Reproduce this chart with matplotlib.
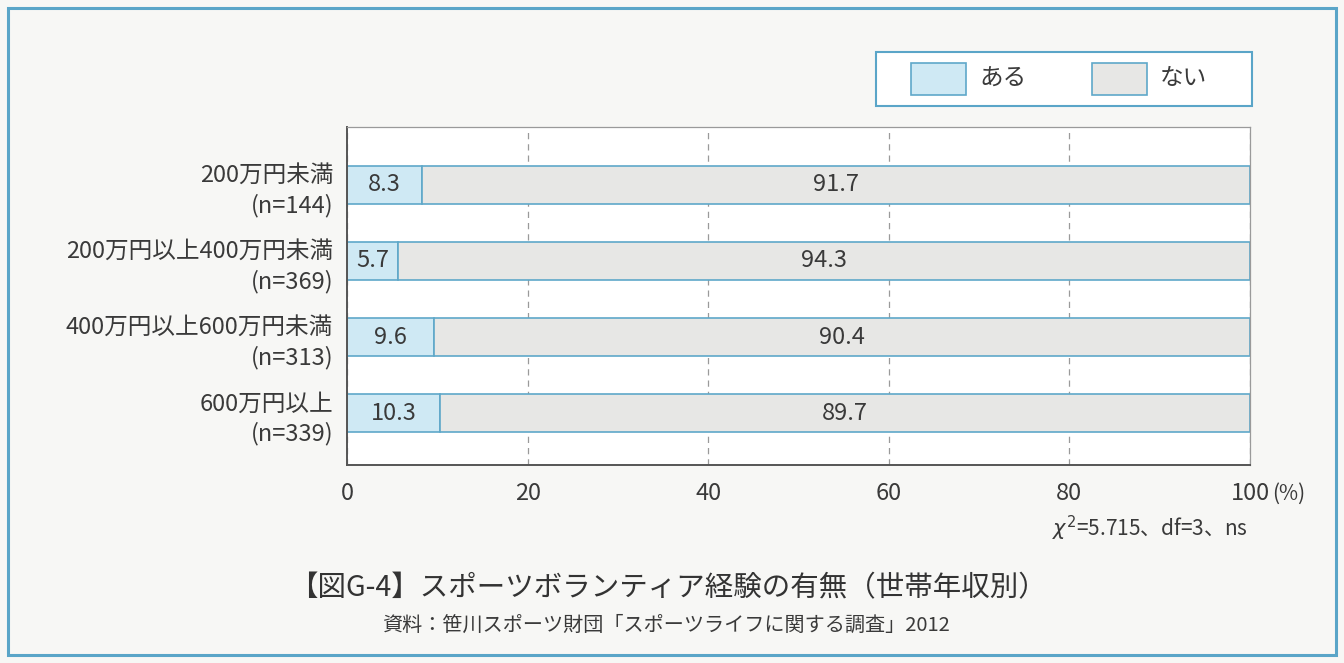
import numpy as np
import matplotlib.pyplot as plt
from matplotlib.patches import Rectangle

plt.rcParams['font.family'] = ['Noto Sans CJK JP', 'DejaVu Sans']

# data
categories = ['200万円未満\n(n=144)', '200万円以上400万円未満\n(n=369)',
              '400万円以上600万円未満\n(n=313)', '600万円以上\n(n=339)']
aru = [8.3, 5.7, 9.6, 10.3]
nai = [91.7, 94.3, 90.4, 89.7]
xticks = [0, 20, 40, 60, 80, 100]
xticklabels = ['0', '20', '40', '60', '80', '100']

blue_fill = '#cfe9f4'
gray_fill = '#e7e7e5'
edge = '#5fa8c9'
txt = '#3a3a3a'

fig = plt.figure(figsize=(13.44, 6.63), dpi=100)
fig.patch.set_facecolor('#f7f7f5')

# outer frame
fig.patches.append(Rectangle((8 / 1344, 8 / 663), 1328 / 1344, 647 / 663,
                             transform=fig.transFigure, fill=False,
                             edgecolor='#5aa5c8', linewidth=2.2))

ax = fig.add_axes([347 / 1344, 1 - 465 / 663, 903 / 1344, 338 / 663])
ax.set_facecolor('white')

y = np.arange(len(categories))[::-1]
ax.barh(y, aru, height=0.5, color=blue_fill, edgecolor=edge, linewidth=1.2)
ax.barh(y, nai, left=aru, height=0.5, color=gray_fill, edgecolor=edge, linewidth=1.2)

for yi, a, n in zip(y, aru, nai):
    ax.text(a / 2, yi, f'{a}', ha='center', va='center', fontsize=17, color=txt)
    ax.text(a + n / 2, yi, f'{n}', ha='center', va='center', fontsize=17, color=txt)

ax.set_xlim(0, 100)
ax.set_ylim(-0.68, 3.76)
ax.set_xticks(xticks)
ax.set_xticklabels(xticklabels, fontsize=17, color=txt)
ax.set_yticks(y)
ax.set_yticklabels(categories, fontsize=17, color=txt, linespacing=1.35)
ax.tick_params(length=0, pad=10)
ax.tick_params(axis='x', pad=12)
ax.annotate('(%)', xy=(1, 0), xycoords='axes fraction', xytext=(22, -29),
            textcoords='offset pixels', fontsize=15, color=txt, ha='left', va='center')
ax.grid(axis='x', linestyle=(0, (5, 4)), color='#9a9a9a', linewidth=0.9)
ax.set_axisbelow(True)
for s in ['top', 'right']:
    ax.spines[s].set_color('#9a9a9a')
    ax.spines[s].set_linewidth(0.9)
for s in ['left', 'bottom']:
    ax.spines[s].set_color('#555555')
    ax.spines[s].set_linewidth(1.4)

# legend
fig.patches.append(Rectangle((876 / 1344, 1 - 106 / 663), 376 / 1344, 54 / 663,
                             transform=fig.transFigure, facecolor='white',
                             edgecolor='#5aa5c8', linewidth=1.5))
fig.patches.append(Rectangle((911 / 1344, 1 - 95 / 663), 55 / 1344, 32 / 663,
                             transform=fig.transFigure, facecolor=blue_fill,
                             edgecolor=edge, linewidth=1.2))
fig.patches.append(Rectangle((1092 / 1344, 1 - 95 / 663), 55 / 1344, 32 / 663,
                             transform=fig.transFigure, facecolor=gray_fill,
                             edgecolor=edge, linewidth=1.2))
fig.text(979 / 1344, 1 - 79 / 663, 'ある', fontsize=17, color=txt, va='center')
fig.text(1160 / 1344, 1 - 79 / 663, 'ない', fontsize=17, color=txt, va='center')

fig.text(1248 / 1344, 1 - 528 / 663, '$\\chi^2$=5.715、df=3、ns', fontsize=15,
         color=txt, ha='right', va='center')
fig.text(668 / 1344, 1 - 588 / 663, '【図G-4】スポーツボランティア経験の有無（世帯年収別）',
         fontsize=20.5, color='#333333', ha='center', va='center')
fig.text(666 / 1344, 1 - 625 / 663, '資料：笹川スポーツ財団「スポーツライフに関する調査」2012',
         fontsize=14.5, color=txt, ha='center', va='center')

fig.savefig('out.png', dpi=100, facecolor=fig.get_facecolor())
